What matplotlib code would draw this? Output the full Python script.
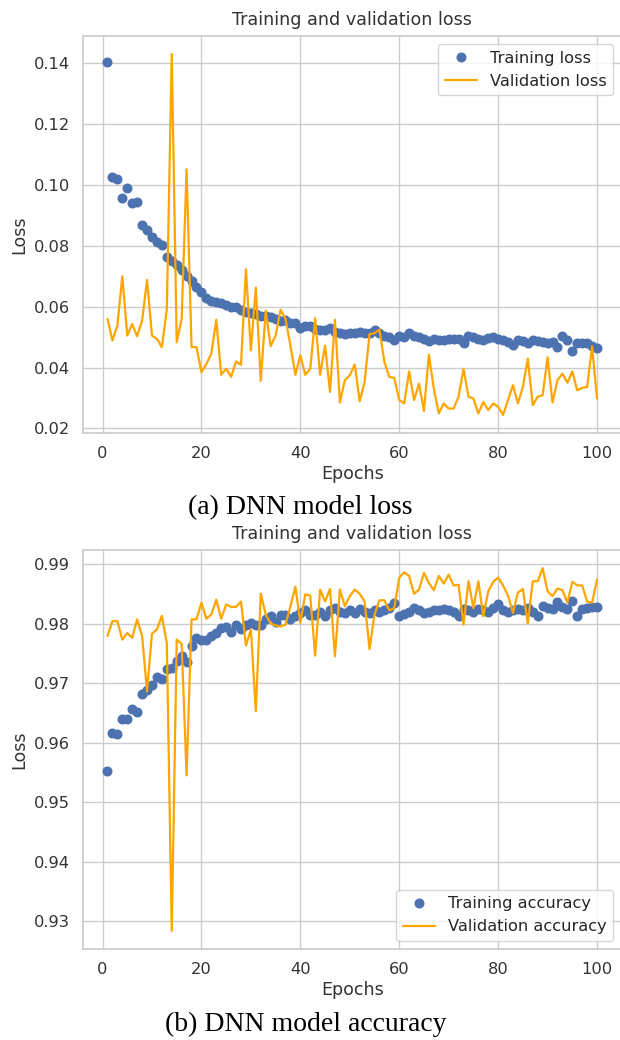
import numpy as np
import matplotlib
matplotlib.use("Agg")
import matplotlib.pyplot as plt
import seaborn as sns

epochs = list(range(1, 101))

train_loss = [
    0.1405, 0.1025, 0.1020, 0.0957, 0.0990, 0.0940, 0.0943, 0.0870, 0.0852, 0.0828,
    0.0812, 0.0803, 0.0765, 0.0750, 0.0736, 0.0722, 0.0700, 0.0685, 0.0665, 0.0648,
    0.0630, 0.0620, 0.0615, 0.0612, 0.0605, 0.0600, 0.0598, 0.0590, 0.0582, 0.0578,
    0.0575, 0.0570, 0.0568, 0.0565, 0.0560, 0.0552, 0.0556, 0.0548, 0.0545, 0.0530,
    0.0535, 0.0538, 0.0528, 0.0525, 0.0522, 0.0530, 0.0518, 0.0512, 0.0510, 0.0512,
    0.0515, 0.0517, 0.0515, 0.0512, 0.0525, 0.0515, 0.0505, 0.0500, 0.0490, 0.0505,
    0.0500, 0.0512, 0.0505, 0.0502, 0.0495, 0.0488, 0.0495, 0.0492, 0.0492, 0.0493,
    0.0495, 0.0494, 0.0480, 0.0505, 0.0500, 0.0495, 0.0492, 0.0498, 0.0502, 0.0495,
    0.0490, 0.0485, 0.0475, 0.0490, 0.0488, 0.0482, 0.0492, 0.0488, 0.0485, 0.0480,
    0.0485, 0.0468, 0.0505, 0.0492, 0.0455, 0.0482, 0.0480, 0.0482, 0.0470, 0.0465,
]

val_loss = [
    0.0560, 0.0489, 0.0538, 0.0700, 0.0505, 0.0543, 0.0503, 0.0554, 0.0688, 0.0505,
    0.0494, 0.0467, 0.0592, 0.1431, 0.0483, 0.0560, 0.1052, 0.0467, 0.0467, 0.0385,
    0.0412, 0.0445, 0.0557, 0.0376, 0.0396, 0.0369, 0.0420, 0.0409, 0.0723, 0.0456,
    0.0663, 0.0356, 0.0587, 0.0470, 0.0505, 0.0590, 0.0560, 0.0472, 0.0376, 0.0440,
    0.0376, 0.0396, 0.0562, 0.0376, 0.0472, 0.0320, 0.0557, 0.0285, 0.0358, 0.0374,
    0.0410, 0.0289, 0.0353, 0.0510, 0.0513, 0.0525, 0.0418, 0.0369, 0.0366, 0.0293,
    0.0282, 0.0387, 0.0293, 0.0347, 0.0257, 0.0442, 0.0331, 0.0249, 0.0282, 0.0265,
    0.0265, 0.0304, 0.0396, 0.0304, 0.0298, 0.0249, 0.0287, 0.0260, 0.0282, 0.0271,
    0.0244, 0.0293, 0.0342, 0.0282, 0.0336, 0.0429, 0.0276, 0.0304, 0.0309, 0.0434,
    0.0285, 0.0358, 0.0380, 0.0350, 0.0387, 0.0325, 0.0333, 0.0336, 0.0470, 0.0298,
]

train_acc = [
    0.9552, 0.9617, 0.9614, 0.9640, 0.9640, 0.9656, 0.9651, 0.9682, 0.9689, 0.9696,
    0.9710, 0.9707, 0.9723, 0.9726, 0.9737, 0.9745, 0.9735, 0.9763, 0.9776, 0.9772,
    0.9773, 0.9779, 0.9784, 0.9793, 0.9795, 0.9785, 0.9797, 0.9790, 0.9797, 0.9801,
    0.9797, 0.9798, 0.9807, 0.9812, 0.9802, 0.9815, 0.9815, 0.9808, 0.9813, 0.9818,
    0.9823, 0.9815, 0.9815, 0.9819, 0.9812, 0.9822, 0.9826, 0.9820, 0.9818, 0.9823,
    0.9818, 0.9825, 0.9820, 0.9818, 0.9822, 0.9819, 0.9822, 0.9826, 0.9835, 0.9813,
    0.9816, 0.9820, 0.9826, 0.9822, 0.9817, 0.9820, 0.9822, 0.9823, 0.9825, 0.9822,
    0.9820, 0.9812, 0.9824, 0.9822, 0.9820, 0.9824, 0.9822, 0.9820, 0.9826, 0.9832,
    0.9822, 0.9819, 0.9822, 0.9824, 0.9822, 0.9826, 0.9820, 0.9812, 0.9830, 0.9826,
    0.9824, 0.9836, 0.9828, 0.9825, 0.9837, 0.9812, 0.9825, 0.9826, 0.9828, 0.9828,
]

val_acc = [
    0.9779, 0.9804, 0.9804, 0.9773, 0.9784, 0.9776, 0.9807, 0.9779, 0.9686, 0.9783,
    0.9790, 0.9813, 0.9767, 0.9284, 0.9773, 0.9766, 0.9545, 0.9807, 0.9807, 0.9835,
    0.9808, 0.9815, 0.9840, 0.9808, 0.9832, 0.9828, 0.9828, 0.9837, 0.9763, 0.9790,
    0.9653, 0.9850, 0.9815, 0.9800, 0.9797, 0.9795, 0.9798, 0.9829, 0.9862, 0.9801,
    0.9849, 0.9847, 0.9746, 0.9857, 0.9837, 0.9858, 0.9745, 0.9857, 0.9829, 0.9846,
    0.9857, 0.9850, 0.9837, 0.9757, 0.9815, 0.9839, 0.9839, 0.9822, 0.9826, 0.9877,
    0.9886, 0.9880, 0.9850, 0.9857, 0.9885, 0.9868, 0.9856, 0.9880, 0.9867, 0.9882,
    0.9864, 0.9865, 0.9798, 0.9871, 0.9826, 0.9871, 0.9812, 0.9854, 0.9870, 0.9877,
    0.9864, 0.9847, 0.9818, 0.9852, 0.9858, 0.9800, 0.9871, 0.9871, 0.9893, 0.9854,
    0.9846, 0.9859, 0.9856, 0.9835, 0.9870, 0.9864, 0.9864, 0.9837, 0.9835, 0.9874,
]

title_text = "Training and validation loss"
caption_a = "(a) DNN model loss"
caption_b = "(b) DNN model accuracy"

sns.set_theme(style="whitegrid")
plt.rcParams['font.family'] = ['DejaVu Sans']

W, H = 620, 1040
fig = plt.figure(figsize=(W / 100, H / 100), dpi=100)

def px_axes(left, top, right, bottom):
    return fig.add_axes([left / W, 1 - bottom / H, (right - left) / W, (bottom - top) / H])

blue = "#4C72B0"
orange = "orange"
text_col = "#333333"
tick_fs = 11.7
lab_fs = 12.6

ax1 = px_axes(83, 36, 621.5, 433)
ax1.plot(epochs, train_loss, 'o', color=blue, markersize=6.2, label="Training loss")
ax1.plot(epochs, val_loss, '-', color=orange, linewidth=1.6, label="Validation loss")
ax1.set_title(title_text, fontsize=lab_fs, color=text_col, pad=8)
ax1.set_xlabel("Epochs", fontsize=lab_fs, color=text_col, labelpad=3)
ax1.set_ylabel("Loss", fontsize=lab_fs, color=text_col)
ax1.set_xticks([0, 20, 40, 60, 80, 100])
ax1.set_yticks([0.02, 0.04, 0.06, 0.08, 0.10, 0.12, 0.14])
ax1.tick_params(labelsize=tick_fs, colors=text_col)
ax1.legend(loc="upper right", fontsize=tick_fs, frameon=True)

ax2 = px_axes(83, 550, 621.5, 949)
ax2.plot(epochs, train_acc, 'o', color=blue, markersize=6.2, label="Training accuracy")
ax2.plot(epochs, val_acc, '-', color=orange, linewidth=1.6, label="Validation accuracy")
ax2.set_title(title_text, fontsize=lab_fs, color=text_col, pad=8)
ax2.set_xlabel("Epochs", fontsize=lab_fs, color=text_col, labelpad=3)
ax2.set_ylabel("Loss", fontsize=lab_fs, color=text_col)
ax2.set_xticks([0, 20, 40, 60, 80, 100])
ax2.set_yticks([0.93, 0.94, 0.95, 0.96, 0.97, 0.98, 0.99])
ax2.tick_params(labelsize=tick_fs, colors=text_col)
ax2.legend(loc="lower right", fontsize=tick_fs, frameon=True)

for ax in (ax1, ax2):
    ax.set_xlim(-3.95, 104.95)
    for s in ax.spines.values():
        s.set_color("#cccccc")
    ax.spines['right'].set_visible(False)

fig.text(300 / W, 1 - 508 / H, caption_a, ha="center", va="center",
         fontsize=20, family="Liberation Serif", color="black")
fig.text(306 / W, 1 - 1024 / H, caption_b, ha="center", va="center",
         fontsize=20, family="Liberation Serif", color="black")

fig.savefig("out.png", dpi=100)
